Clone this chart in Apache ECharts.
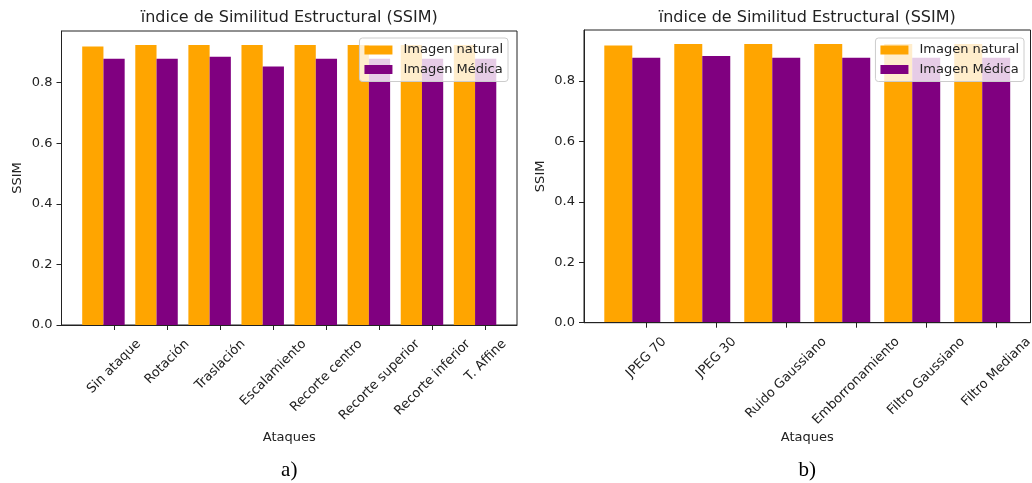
<!DOCTYPE html>
<html>
<head>
<meta charset="utf-8">
<script src="https://cdn.jsdelivr.net/npm/echarts@6/dist/echarts.min.js"></script>
<style>
  html, body { margin: 0; padding: 0; background: #fff; }
  #chart { width: 1032px; height: 483px; }
</style>
</head>
<body>
<div id="chart"></div>
<script>
// a) geometric attacks
const attacksA = ['Sin ataque', 'Rotación', 'Traslación', 'Escalamiento', 'Recorte centro', 'Recorte superior', 'Recorte inferior', 'T. Affine'];
const naturalA = [0.919, 0.924, 0.924, 0.924, 0.924, 0.924, 0.924, 0.924];
const medicalA = [0.879, 0.879, 0.885, 0.853, 0.879, 0.879, 0.879, 0.879];

// b) signal-processing attacks
const attacksB = ['JPEG 70', 'JPEG 30', 'Ruido Gaussiano', 'Emborronamiento', 'Filtro Gaussiano', 'Filtro Mediana'];
const naturalB = [0.917, 0.922, 0.922, 0.922, 0.922, 0.922];
const medicalB = [0.876, 0.882, 0.876, 0.876, 0.876, 0.876];

const yTicks = [0, 0.2, 0.4, 0.6, 0.8];
const seriesNames = ['Imagen natural', 'Imagen Médica'];
const seriesColors = ['#FFA500', '#800080'];
const titleText = 'ïndice de Similitud Estructural (SSIM)';
const xName = 'Ataques';
const yName = 'SSIM';
const captions = ['a)', 'b)'];

const FONT = 'DejaVu Sans';
const INK = '#222';
const BAR_W = 0.4;   // each bar is 0.4 of a category step

// measure label widths so rotated labels hang centred under their tick
const measureCtx = document.createElement('canvas').getContext('2d');
measureCtx.font = '13px "' + FONT + '"';
function textWidth(s) { return measureCtx.measureText(s).width; }

const panels = [
  { cats: attacksA, nat: naturalA, med: medicalA, grid: { left: 61.5, right: 515, top: 31, bottom: 158 }, legendRight: 524, nameGap: 106 },
  { cats: attacksB, nat: naturalB, med: medicalB, grid: { left: 584, right: 1.5, top: 30, bottom: 160.3 }, legendRight: 8, nameGap: 108 }
];

const grids = [], xAxes = [], yAxes = [], series = [], legends = [], graphics = [];

panels.forEach((p, k) => {
  const n = p.cats.length;
  const pad = 0.05 * (n - 1 + 2 * BAR_W);
  const xMin = -BAR_W - pad;
  const xMax = n - 1 + BAR_W + pad;
  const tickPos = p.cats.map((_, i) => i + BAR_W / 2);
  const yMax = Math.max(...p.nat, ...p.med) * 1.05;

  const rich = {};
  p.cats.forEach((c, i) => {
    const half = textWidth(c) / 2;
    rich['c' + i] = { fontSize: 13, fontFamily: FONT, color: INK, padding: [half, half, 0, 0] };
  });

  grids.push(Object.assign({
    show: true, borderColor: INK, borderWidth: 1, backgroundColor: 'transparent',
    containLabel: false, outerBoundsMode: 'none'
  }, p.grid));

  xAxes.push({
    gridIndex: k, type: 'value', min: xMin, max: xMax, z: 3,
    axisLine: { show: true, onZero: false, lineStyle: { color: INK, width: 1 } },
    axisTick: { show: true, customValues: tickPos, length: 5, lineStyle: { color: INK } },
    axisLabel: {
      customValues: tickPos, rotate: 45, align: 'center', verticalAlign: 'middle',
      margin: 17, hideOverlap: false,
      formatter: v => { const i = Math.round(v - BAR_W / 2); return '{c' + i + '|' + p.cats[i] + '}'; },
      rich: rich
    },
    splitLine: { show: false },
    name: xName, nameLocation: 'middle', nameGap: p.nameGap, nameMoveOverlap: false,
    nameTextStyle: { fontSize: 13, fontFamily: FONT, color: INK }
  });

  yAxes.push({
    gridIndex: k, type: 'value', min: 0, max: yMax, z: 3,
    axisLine: { show: true, onZero: false, lineStyle: { color: INK, width: 1 } },
    axisTick: { show: true, customValues: yTicks, length: 5, lineStyle: { color: INK } },
    axisLabel: {
      customValues: yTicks, formatter: v => v.toFixed(1), margin: 9,
      fontSize: 13, fontFamily: FONT, color: INK
    },
    splitLine: { show: false },
    name: yName, nameLocation: 'middle', nameRotate: 90, nameGap: 37, nameMoveOverlap: false,
    nameTextStyle: { fontSize: 13, fontFamily: FONT, color: INK }
  });

  [p.nat, p.med].forEach((vals, s) => {
    series.push({
      type: 'bar', name: seriesNames[s], xAxisIndex: k, yAxisIndex: k,
      data: vals.map((v, i) => [i, v]),
      barGap: '0%', barCategoryGap: '20%',
      itemStyle: { color: seriesColors[s] },
      emphasis: { disabled: true }
    });
  });

  legends.push({
    data: seriesNames, orient: 'vertical', right: p.legendRight, top: 38,
    icon: 'rect', itemWidth: 28, itemHeight: 9, itemGap: 6.5,
    padding: [5.5, 5, 5.5, 5], backgroundColor: 'rgba(255,255,255,0.8)',
    borderColor: '#cccccc', borderWidth: 1, borderRadius: 3,
    selectedMode: false,
    textStyle: { fontSize: 13, fontFamily: FONT, color: INK, padding: [0, 0, 0, 6] }
  });

  const cx = p.grid.left + (1032 - p.grid.left - p.grid.right) / 2;
  graphics.push({
    type: 'text', x: cx, y: 18,
    style: { text: titleText, align: 'center', verticalAlign: 'middle', fontSize: 16, fontFamily: FONT, fill: INK }
  });
  graphics.push({
    type: 'text', x: cx, y: 470,
    style: { text: captions[k], align: 'center', verticalAlign: 'middle', fontSize: 21, fontFamily: 'Liberation Serif', fill: '#000' }
  });
});

const chart = echarts.init(document.getElementById('chart'), null, { renderer: 'canvas' });
chart.setOption({
  animation: false,
  backgroundColor: '#fff',
  grid: grids,
  xAxis: xAxes,
  yAxis: yAxes,
  legend: legends,
  series: series,
  graphic: graphics
});
</script>
</body>
</html>
